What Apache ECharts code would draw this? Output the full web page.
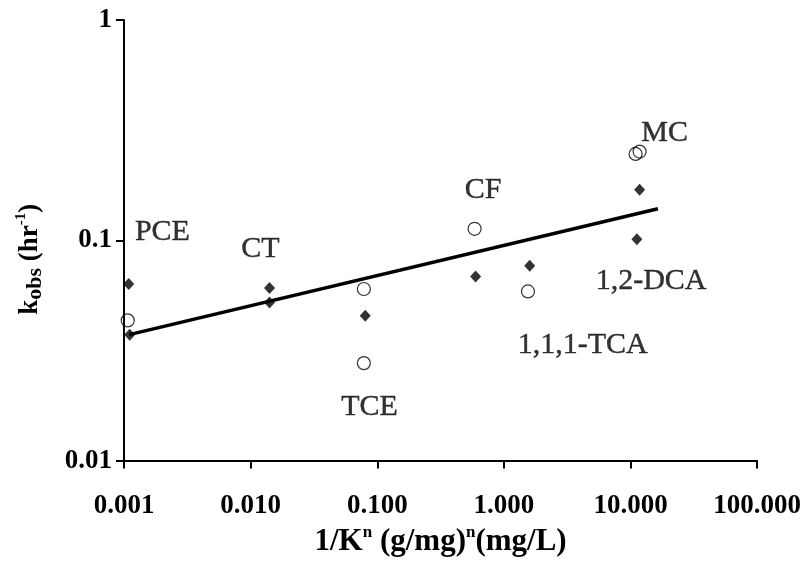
<!DOCTYPE html>
<html><head><meta charset="utf-8">
<script src="https://cdn.jsdelivr.net/npm/echarts@6/dist/echarts.min.js"></script>
<style>html,body{margin:0;padding:0;background:#fff}#c{width:804px;height:562px}</style>
</head><body><div id="c"></div>
<script>
// Filled diamonds (one set of k_obs values)
const filledX = [0.00109, 0.00111, 0.0141, 0.0141, 0.0804, 0.598, 1.60, 11.8, 11.23];
const filledY = [0.0633, 0.0373, 0.0607, 0.0522, 0.0455, 0.0685, 0.0766, 0.1694, 0.1012];
// Open circles (other set)
const openX = [0.00107, 0.0784, 0.0784, 0.587, 1.55, 10.97, 11.8];
const openY = [0.0433, 0.0601, 0.0277, 0.1128, 0.0586, 0.2467, 0.2528];
// Fitted line end points
const fitX = [0.0011, 16.46];
const fitY = [0.0373, 0.139];
// Compound labels placed in data space
const labelNames = ['PCE', 'CT', 'TCE', 'CF', 'MC', '1,2-DCA', '1,1,1-TCA'];
const labelX = [0.00201, 0.01197, 0.0869, 0.685, 18.6, 14.55, 4.19];
const labelY = [0.1093, 0.0915, 0.0175, 0.1694, 0.307, 0.0652, 0.0336];

const FONT = 'Liberation Serif';
const zip = (a, b) => a.map((v, i) => [v, b[i]]);

const chart = echarts.init(document.getElementById('c'), null, {renderer: 'canvas'});
const axisCommon = {
  type: 'log', logBase: 10,
  axisLine: {show: true, lineStyle: {color: '#000', width: 2}},
  axisTick: {show: true, inside: false, length: 8, lineStyle: {color: '#000', width: 2}},
  minorTick: {show: false},
  splitLine: {show: false},
  nameLocation: 'middle'
};
const mk = (size, lh, va) => ({fontFamily: FONT, fontWeight: 'bold', color: '#000', fontSize: size, lineHeight: lh, verticalAlign: va});
chart.setOption({
  animation: false,
  backgroundColor: '#fff',
  grid: {left: 124, right: 46, top: 20, bottom: 101, containLabel: false},
  xAxis: Object.assign({}, axisCommon, {
    min: 0.001, max: 100,
    axisLabel: {margin: 32, fontFamily: FONT, fontWeight: 'bold', fontSize: 27, color: '#000',
      formatter: v => Number(v).toFixed(3)},
    name: '{a|1/K}{s|n}{a| (g/mg)}{s|n}{a|(mg/L)}',
    nameGap: 58,
    nameTextStyle: {rich: {a: mk(31, 34, 'middle'), s: mk(17, 17, 'top')}}
  }),
  yAxis: Object.assign({}, axisCommon, {
    min: 0.01, max: 1,
    axisLabel: {margin: 12, fontFamily: FONT, fontWeight: 'bold', fontSize: 27, color: '#000',
      formatter: v => String(parseFloat(Number(v).toPrecision(1)))},
    name: '{a|k}{b|obs}{a| (hr}{s|-1}{a|)}',
    nameRotate: 90,
    nameGap: 78,
    nameTextStyle: {padding: [0, 38, 0, 0], rich: {a: mk(27, 32, 'middle'), b: mk(22, 22, 'bottom'), s: mk(15, 15, 'top')}}
  }),
  series: [
    {type: 'scatter', data: zip(filledX, filledY), symbol: 'diamond', symbolSize: [11, 12],
     itemStyle: {color: '#000'}, z: 3, silent: true},
    {type: 'scatter', data: zip(openX, openY), symbol: 'circle', symbolSize: 13,
     itemStyle: {color: 'rgba(255,255,255,0)', borderColor: '#000', borderWidth: 1.2}, z: 3, silent: true},
    {type: 'line', data: zip(fitX, fitY), symbol: 'none', lineStyle: {color: '#000', width: 3.5}, z: 4, silent: true},
    {type: 'scatter', symbolSize: 1, itemStyle: {color: 'rgba(0,0,0,0)'}, silent: true, z: 5,
     data: labelNames.map((n, i) => ({name: n, value: [labelX[i], labelY[i]]})),
     label: {show: true, position: 'inside', formatter: p => p.name,
       fontFamily: FONT, fontSize: 30, color: '#000', textBorderColor: '#000', textBorderWidth: 0.4}}
  ]
});
</script></body></html>
